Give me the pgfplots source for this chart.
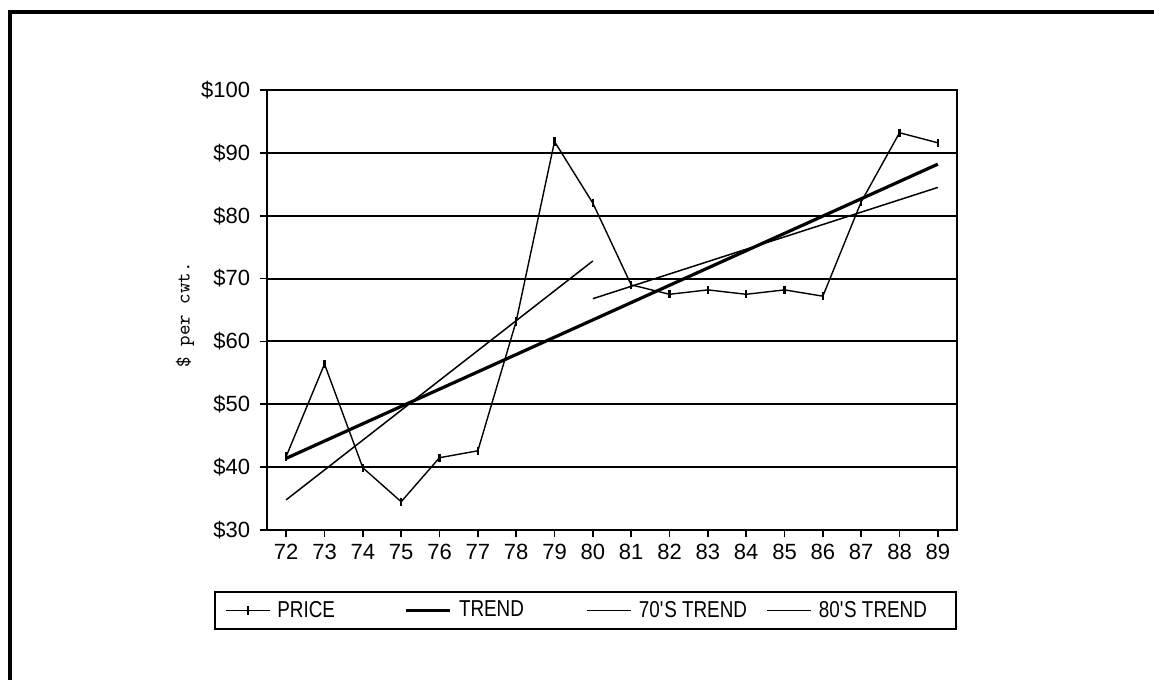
\documentclass[border=0pt]{standalone}
\usepackage{fontspec}
\setmainfont{Liberation Sans}
\newfontfamily\legfont[FakeStretch=0.82]{Liberation Sans}
\usepackage{pgfplots}
\pgfplotsset{compat=1.18}

\begin{document}
\begin{tikzpicture}
\path[use as bounding box] (0,0) rectangle (577pt,340pt);
% border of the scanned page: top and left only
\draw[line width=1.75pt] (4pt,334pt) -- (577pt,334pt);
\draw[line width=1.75pt] (5pt,335pt) -- (5pt,0pt);

\begin{axis}[
    scale only axis, width=345pt, height=220pt,
    at={(133.5pt,75pt)}, anchor=south west,
    xmin=71.5, xmax=89.5, ymin=30, ymax=100,
    xtick={72,...,89},
    xticklabels={72,73,74,75,76,77,78,79,80,81,82,83,84,85,86,87,88,89},
    ytick={30,40,...,100},
    yticklabels={\$30,\$40,\$50,\$60,\$70,\$80,\$90,\$100},
    ymajorgrids, grid style={black, line width=1pt},
    axis line style={line width=1pt},
    tick align=outside, major tick length=3.5pt,
    xtick pos=bottom, ytick pos=left,
    tick style={black, line width=0.9pt},
    tick label style={font=\fontsize{11}{13}\selectfont},
    yticklabel style={xshift=-1.4pt},
    ylabel={\$ per cwt.},
    every axis y label/.style={at={(axis description cs:-0.1188,0.489)},
        rotate=90, anchor=center, font=\ttfamily\fontsize{10}{12}\selectfont},
    legend columns=4,
    legend style={at={(-0.0768,-0.1386)}, anchor=north west, draw=black,
        line width=1pt, inner xsep=5pt, inner ysep=2.5pt,
        font=\legfont\fontsize{11.5}{13}\selectfont,
        /tikz/every odd column/.append style={column sep=1.5pt},
        /tikz/every even column/.append style={column sep=0pt}},
    legend image code/.code={\draw[mark repeat=2,mark phase=2,#1]
        plot coordinates {(0pt,0pt) (11pt,0pt) (22pt,0pt)};},
    legend cell align=left,
   ]
% PRICE
\addplot[black, line width=0.7pt, mark=|, mark size=2.1pt,
    mark options={line width=1.2pt}] coordinates {
 (72,41.7) (73,56.4) (74,39.9) (75,34.5) (76,41.5) (77,42.6)
 (78,63.2) (79,91.8) (80,82.0) (81,69.0) (82,67.5) (83,68.2)
 (84,67.5) (85,68.2) (86,67.2) (87,82.2) (88,93.2) (89,91.6) };
% TREND
\addplot[black, line width=1.6pt] coordinates { (72,41.4) (89,88.2) };
% 70'S TREND
\addplot[black, line width=0.75pt] coordinates { (72,34.8) (80,72.8) };
% 80'S TREND
\addplot[black, line width=0.75pt] coordinates { (80,66.8) (89,84.5) };

\legend{\makebox[61.7pt][l]{PRICE},\makebox[61.7pt][l]{TREND},
    \makebox[61.7pt][l]{70\textquotesingle S TREND},\makebox[61.7pt][l]{80\textquotesingle S TREND}}
\end{axis}
\end{tikzpicture}
\end{document}
